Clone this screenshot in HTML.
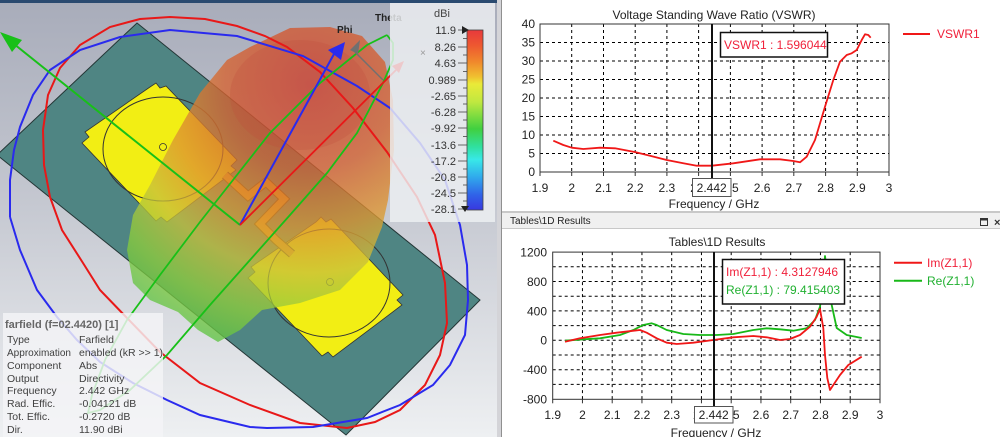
<!DOCTYPE html>
<html><head><meta charset="utf-8">
<style>
html,body{margin:0;padding:0;background:#fff;}
body{width:1000px;height:437px;overflow:hidden;}
svg{display:block;font-family:"Liberation Sans",sans-serif;}
</style></head>
<body>
<svg width="1000" height="437" viewBox="0 0 1000 437" xmlns="http://www.w3.org/2000/svg">
<defs>
<linearGradient id="bg" x1="0" y1="0" x2="0" y2="1">
<stop offset="0" stop-color="#a8acba"/><stop offset="0.45" stop-color="#c4c7d0"/><stop offset="1" stop-color="#eef0f2"/>
</linearGradient>
<clipPath id="lp"><rect x="0" y="0" width="497" height="437"/></clipPath>
<radialGradient id="blob" gradientUnits="userSpaceOnUse" cx="310" cy="85" r="285">
<stop offset="0" stop-color="#cf3f2e"/><stop offset="0.3" stop-color="#d5622f"/><stop offset="0.5" stop-color="#dd9430"/>
<stop offset="0.66" stop-color="#c8c03a"/><stop offset="0.82" stop-color="#8ccc3c"/><stop offset="1" stop-color="#50c048"/>
</radialGradient>
<linearGradient id="cb" x1="0" y1="0" x2="0" y2="1">
<stop offset="0" stop-color="#e8393c"/><stop offset="0.09" stop-color="#ee5a30"/><stop offset="0.18" stop-color="#f08a2c"/>
<stop offset="0.26" stop-color="#f0c030"/><stop offset="0.30" stop-color="#eaea38"/><stop offset="0.40" stop-color="#c0e840"/>
<stop offset="0.55" stop-color="#40d040"/><stop offset="0.65" stop-color="#30e0a0"/><stop offset="0.72" stop-color="#38e8e8"/>
<stop offset="0.82" stop-color="#30a8ec"/><stop offset="0.92" stop-color="#3060e8"/><stop offset="1" stop-color="#3838e0"/>
</linearGradient>
</defs>

<!-- LEFT 3D PANEL -->
<g clip-path="url(#lp)">
<rect x="0" y="0" width="497" height="437" fill="url(#bg)"/>
<rect x="0" y="0" width="497" height="3" fill="#2a4a70"/>
<polygon points="137,23 480,300 346,435 -3,155" fill="#4f8583" stroke="#243636" stroke-width="1"/>
<polygon points="150,87 156,83 160,88 166,86 237,160 231,166 236,170 167,222 161,217 156,221 82,143 89,137 85,132" fill="#f2ee14" stroke="#333" stroke-width="0.8"/>
<polygon points="316,222 321,217 326,222 331,219 403,295 397,300 402,305 333,357 328,352 322,356 248,278 255,272 251,267" fill="#f2ee14" stroke="#333" stroke-width="0.8"/>
<ellipse cx="163" cy="149" rx="60" ry="52" fill="none" stroke="#333" stroke-width="1"/>
<ellipse cx="329" cy="283" rx="61" ry="54" fill="none" stroke="#333" stroke-width="1"/>
<circle cx="163" cy="147" r="3.5" fill="none" stroke="#333" stroke-width="0.8"/>
<circle cx="330" cy="282" r="3.5" fill="none" stroke="#333" stroke-width="0.8"/>
<polyline points="225,175 248,196 266,182 284,199 260,224 276,240 292,254" fill="none" stroke="#5a4010" stroke-width="9" stroke-linejoin="miter"/>
<polyline points="225,175 248,196 266,182 284,199 260,224 276,240 292,254" fill="none" stroke="#eaa020" stroke-width="7" stroke-linejoin="miter"/>
<polygon points="250,47 290,28 330,27 362,36 385,62 393,100 394,150 388,200 382,227 368,262 340,290 300,303 262,310 240,330 218,342 198,330 178,312 150,300 133,283 127,250 133,215 150,185 173,140 200,93 227,60" fill="url(#blob)" fill-opacity="0.78"/>
<ellipse cx="300" cy="95" rx="70" ry="55" fill="#c04a3a" fill-opacity="0.25"/>
<polyline points="43,130 48,95 60,68 80,45 110,27 140,19 170,17 205,19 237,26 265,36 287,47 320,72 353,108 387,152 417,197 435,235 445,283 447,323 440,355 425,385 400,410 375,422 347,428 300,423 250,405 200,383 160,352 127,318 100,290 83,263 62,230 50,197 44,165 43,130" fill="none" stroke="#e81818" stroke-width="2"/>
<polyline points="10,217 10,180 14,150 20,127 33,95 50,70 80,50 120,37 170,30 237,36 303,56 357,86 390,108 420,143 445,180 460,225 467,265 468,300 465,335 450,365 433,385 400,405 367,418 313,427 267,428 250,427 200,415 167,400 133,383 100,362 77,340 57,317 37,290 20,250 10,217" fill="none" stroke="#2a2aee" stroke-width="2"/>
<polyline points="387,35 367,45 320,83 270,133 233,180 200,222 160,275 127,320 105,360 92,395 88,413 100,410 130,390 167,355 210,305 250,260 290,215 327,173 357,133 383,83 393,60 393,43 387,35" fill="none" stroke="#18c018" stroke-width="1.8"/>
<line x1="240" y1="225" x2="14" y2="44" stroke="#18c018" stroke-width="2"/>
<polygon points="0,32 22,40 12,52" fill="#18c018"/>
<line x1="240" y1="225" x2="334" y2="54" stroke="#2a2aee" stroke-width="2"/>
<polygon points="345,42 328,50 341,60" fill="#2a2aee"/>
<line x1="240" y1="225" x2="396" y2="70" stroke="#e81818" stroke-width="1.8"/>
<polygon points="404,61 392,66 399,73" fill="#e81818"/>
<line x1="383" y1="80" x2="355" y2="52" stroke="#707070" stroke-width="1.5"/>
<polygon points="360,40 350,50 358,54" fill="#707070"/>
<text x="337" y="33" font-size="10" font-weight="bold" fill="#222">Phi</text>
<text x="375" y="21" font-size="10" font-weight="bold" fill="#222">Theta</text>
<rect x="390" y="3" width="105" height="219" fill="#eef0f3" fill-opacity="0.82"/>
<text x="420" y="56" font-size="10" fill="#999">×</text>
<text x="442" y="17" font-size="11" fill="#444" text-anchor="middle">dBi</text>
<rect x="467" y="30" width="16" height="180" fill="url(#cb)" stroke="#444" stroke-width="0.8"/>
<g stroke="#444" stroke-width="0.8">
<line x1="458" y1="30" x2="467" y2="30"/><line x1="458" y1="47" x2="467" y2="47"/><line x1="458" y1="63" x2="467" y2="63"/><line x1="458" y1="80" x2="467" y2="80"/><line x1="458" y1="96" x2="467" y2="96"/><line x1="458" y1="112" x2="467" y2="112"/><line x1="458" y1="128" x2="467" y2="128"/><line x1="458" y1="145" x2="467" y2="145"/><line x1="458" y1="161" x2="467" y2="161"/><line x1="458" y1="177" x2="467" y2="177"/><line x1="458" y1="193" x2="467" y2="193"/><line x1="458" y1="209" x2="467" y2="209"/>
<line x1="463" y1="38.5" x2="467" y2="38.5"/><line x1="463" y1="55" x2="467" y2="55"/><line x1="463" y1="71.5" x2="467" y2="71.5"/><line x1="463" y1="88" x2="467" y2="88"/><line x1="463" y1="104" x2="467" y2="104"/><line x1="463" y1="120" x2="467" y2="120"/><line x1="463" y1="136.5" x2="467" y2="136.5"/><line x1="463" y1="153" x2="467" y2="153"/><line x1="463" y1="169" x2="467" y2="169"/><line x1="463" y1="185" x2="467" y2="185"/><line x1="463" y1="201" x2="467" y2="201"/>
</g>
<polygon points="462,26 469,30 462,34" fill="#222"/>
<polygon points="461,206 469,206 465,212" fill="#222"/>
<g font-size="11" fill="#333" text-anchor="end">
<text x="456" y="34">11.9</text><text x="456" y="51">8.26</text><text x="456" y="67">4.63</text><text x="456" y="84">0.989</text>
<text x="456" y="100">-2.65</text><text x="456" y="116">-6.28</text><text x="456" y="132">-9.92</text><text x="456" y="149">-13.6</text>
<text x="456" y="165">-17.2</text><text x="456" y="181">-20.8</text><text x="456" y="197">-24.5</text><text x="456" y="213">-28.1</text>
</g>
<rect x="3" y="313" width="160" height="124" fill="#f4f4f6" fill-opacity="0.82"/>
<text x="5" y="328" font-size="11" font-weight="bold" fill="#666">farfield (f=02.4420) [1]</text>
<g font-size="10.5" fill="#404040">
<text x="7" y="343">Type</text><text x="79" y="343">Farfield</text>
<text x="7" y="356" textLength="64" lengthAdjust="spacingAndGlyphs">Approximation</text><text x="79" y="356">enabled (kR &gt;&gt; 1)</text>
<text x="7" y="369">Component</text><text x="79" y="369">Abs</text>
<text x="7" y="382">Output</text><text x="79" y="382">Directivity</text>
<text x="7" y="394">Frequency</text><text x="79" y="394">2.442 GHz</text>
<text x="7" y="407">Rad. Effic.</text><text x="79" y="407">-0.04121 dB</text>
<text x="7" y="420">Tot. Effic.</text><text x="79" y="420">-0.2720 dB</text>
<text x="7" y="433">Dir.</text><text x="79" y="433">11.90 dBi</text>
</g>
</g>

<rect x="497" y="0" width="4" height="437" fill="#d4d4d8"/>
<line x1="501.5" y1="0" x2="501.5" y2="437" stroke="#909090" stroke-width="1"/>

<!-- TOP CHART -->
<text x="714" y="19" font-size="12" fill="#222" text-anchor="middle">Voltage Standing Wave Ratio (VSWR)</text>
<g stroke="#000" stroke-width="1" stroke-dasharray="3,3">
<line x1="571.7" y1="24" x2="571.7" y2="172"/><line x1="603.5" y1="24" x2="603.5" y2="172"/><line x1="635.2" y1="24" x2="635.2" y2="172"/><line x1="666.9" y1="24" x2="666.9" y2="172"/><line x1="698.6" y1="24" x2="698.6" y2="172"/><line x1="730.4" y1="24" x2="730.4" y2="172"/><line x1="762.1" y1="24" x2="762.1" y2="172"/><line x1="793.8" y1="24" x2="793.8" y2="172"/><line x1="825.6" y1="24" x2="825.6" y2="172"/><line x1="857.3" y1="24" x2="857.3" y2="172"/>
<line x1="540" y1="153.5" x2="889" y2="153.5"/><line x1="540" y1="135" x2="889" y2="135"/><line x1="540" y1="116.5" x2="889" y2="116.5"/><line x1="540" y1="98" x2="889" y2="98"/><line x1="540" y1="79.5" x2="889" y2="79.5"/><line x1="540" y1="61" x2="889" y2="61"/><line x1="540" y1="42.5" x2="889" y2="42.5"/>
</g>
<rect x="540" y="24" width="349" height="148" fill="none" stroke="#333" stroke-width="1"/>
<g stroke="#333" stroke-width="1">
<line x1="540" y1="172" x2="540" y2="176"/><line x1="571.7" y1="172" x2="571.7" y2="176"/><line x1="603.5" y1="172" x2="603.5" y2="176"/><line x1="635.2" y1="172" x2="635.2" y2="176"/><line x1="666.9" y1="172" x2="666.9" y2="176"/><line x1="698.6" y1="172" x2="698.6" y2="176"/><line x1="730.4" y1="172" x2="730.4" y2="176"/><line x1="762.1" y1="172" x2="762.1" y2="176"/><line x1="793.8" y1="172" x2="793.8" y2="176"/><line x1="825.6" y1="172" x2="825.6" y2="176"/><line x1="857.3" y1="172" x2="857.3" y2="176"/><line x1="889" y1="172" x2="889" y2="176"/>
</g>
<g font-size="12" fill="#222" text-anchor="end">
<text x="535" y="28">40</text><text x="535" y="46.5">35</text><text x="535" y="65">30</text><text x="535" y="83.5">25</text><text x="535" y="102">20</text><text x="535" y="120.5">15</text><text x="535" y="139">10</text><text x="535" y="157.5">5</text><text x="535" y="176">0</text>
</g>
<g font-size="12" fill="#222" text-anchor="middle">
<text x="540" y="192">1.9</text><text x="571.7" y="192">2</text><text x="603.5" y="192">2.1</text><text x="635.2" y="192">2.2</text><text x="666.9" y="192">2.3</text><text x="698.6" y="192">2.4</text><text x="730.4" y="192">2.5</text><text x="762.1" y="192">2.6</text><text x="793.8" y="192">2.7</text><text x="825.6" y="192">2.8</text><text x="857.3" y="192">2.9</text><text x="889" y="192">3</text>
</g>
<text x="714" y="208" font-size="12" fill="#222" text-anchor="middle">Frequency / GHz</text>
<polyline points="553.3,140.7 563.3,145 571.7,147.7 583.3,149 600,147.7 615,148.3 633.3,151.7 650,155.7 666.7,160 683.3,163.3 696.7,165.7 712,165.7 733.3,163.3 760,159.3 780,159.3 793.3,161 800,162.3 806.7,156.7 815,140 825,106.7 833.3,80 840,61.7 846.7,55 851.7,53.3 856.7,50 861.7,40 865,34.3 868.3,35 870.7,37.7" fill="none" stroke="#f01818" stroke-width="1.8" stroke-linejoin="round"/>
<line x1="712" y1="24" x2="712" y2="178" stroke="#111" stroke-width="2"/>
<rect x="692.5" y="178.5" width="38.5" height="18" fill="#fff" stroke="#555" stroke-width="1"/>
<text x="711.7" y="192" font-size="12" fill="#222" text-anchor="middle">2.442</text>
<rect x="720.5" y="32.5" width="107" height="24.5" fill="#fff" stroke="#111" stroke-width="1.5"/>
<text x="724" y="49" font-size="12" fill="#f0203a">VSWR1 : 1.596044</text>
<line x1="903" y1="34" x2="930" y2="34" stroke="#f01818" stroke-width="2"/>
<text x="937" y="38" font-size="12" fill="#f0203a">VSWR1</text>

<rect x="502" y="211" width="498" height="2" fill="#c8c8c8"/>
<rect x="502" y="213" width="498" height="15" fill="#f0f0f0"/>
<line x1="502" y1="228.5" x2="1000" y2="228.5" stroke="#c8c8c8" stroke-width="1"/>
<text x="510" y="224" font-size="10" fill="#222">Tables\1D Results</text>
<rect x="980.5" y="218.5" width="7" height="7" fill="none" stroke="#333" stroke-width="1"/>
<line x1="980.5" y1="219.5" x2="987.5" y2="219.5" stroke="#333" stroke-width="2"/>
<text x="994" y="226" font-size="11" font-weight="bold" fill="#333">×</text>

<!-- BOTTOM CHART -->
<text x="717" y="246" font-size="12" fill="#222" text-anchor="middle">Tables\1D Results</text>
<g stroke="#000" stroke-width="1" stroke-dasharray="3,3">
<line x1="582.45" y1="252.1" x2="582.45" y2="399.3"/><line x1="612.2" y1="252.1" x2="612.2" y2="399.3"/><line x1="641.95" y1="252.1" x2="641.95" y2="399.3"/><line x1="671.7" y1="252.1" x2="671.7" y2="399.3"/><line x1="701.45" y1="252.1" x2="701.45" y2="399.3"/><line x1="731.2" y1="252.1" x2="731.2" y2="399.3"/><line x1="760.95" y1="252.1" x2="760.95" y2="399.3"/><line x1="790.7" y1="252.1" x2="790.7" y2="399.3"/><line x1="820.45" y1="252.1" x2="820.45" y2="399.3"/><line x1="850.2" y1="252.1" x2="850.2" y2="399.3"/>
<line x1="552.7" y1="266.8" x2="880" y2="266.8"/><line x1="552.7" y1="281.5" x2="880" y2="281.5"/><line x1="552.7" y1="296.2" x2="880" y2="296.2"/><line x1="552.7" y1="310.9" x2="880" y2="310.9"/><line x1="552.7" y1="325.6" x2="880" y2="325.6"/><line x1="552.7" y1="340.3" x2="880" y2="340.3"/><line x1="552.7" y1="355" x2="880" y2="355"/><line x1="552.7" y1="369.7" x2="880" y2="369.7"/><line x1="552.7" y1="384.4" x2="880" y2="384.4"/>
</g>
<rect x="552.7" y="252.1" width="327.3" height="147.2" fill="none" stroke="#333" stroke-width="1"/>
<g stroke="#333" stroke-width="1">
<line x1="552.7" y1="399.3" x2="552.7" y2="403.3"/><line x1="582.45" y1="399.3" x2="582.45" y2="403.3"/><line x1="612.2" y1="399.3" x2="612.2" y2="403.3"/><line x1="641.95" y1="399.3" x2="641.95" y2="403.3"/><line x1="671.7" y1="399.3" x2="671.7" y2="403.3"/><line x1="701.45" y1="399.3" x2="701.45" y2="403.3"/><line x1="731.2" y1="399.3" x2="731.2" y2="403.3"/><line x1="760.95" y1="399.3" x2="760.95" y2="403.3"/><line x1="790.7" y1="399.3" x2="790.7" y2="403.3"/><line x1="820.45" y1="399.3" x2="820.45" y2="403.3"/><line x1="850.2" y1="399.3" x2="850.2" y2="403.3"/><line x1="880" y1="399.3" x2="880" y2="403.3"/>
</g>
<g font-size="12" fill="#222" text-anchor="end">
<text x="547" y="256.5">1200</text><text x="547" y="285.9">800</text><text x="547" y="315.3">400</text><text x="547" y="344.7">0</text><text x="547" y="374.1">-400</text><text x="547" y="403.5">-800</text>
</g>
<g font-size="12" fill="#222" text-anchor="middle">
<text x="552.7" y="419">1.9</text><text x="582.45" y="419">2</text><text x="612.2" y="419">2.1</text><text x="641.95" y="419">2.2</text><text x="671.7" y="419">2.3</text><text x="701.45" y="419">2.4</text><text x="731.2" y="419">2.5</text><text x="760.95" y="419">2.6</text><text x="790.7" y="419">2.7</text><text x="820.45" y="419">2.8</text><text x="850.2" y="419">2.9</text><text x="880" y="419">3</text>
</g>
<text x="716" y="437" font-size="12" fill="#222" text-anchor="middle">Frequency / GHz</text>
<polyline points="565,340.7 583.3,339.3 600,338.3 620,335 633.3,330 643.3,325 651.7,323.3 656.7,325 666.7,330 683.3,334 700,335 716.7,335 733.3,334 753.3,330 766.7,328.3 780,329.3 793.3,330.7 806.7,328.3 815,320 820,306.7 823,285 825,256 828,280 831.7,305 836.7,328 846.7,335 861.7,338" fill="none" stroke="#18b818" stroke-width="1.8" stroke-linejoin="round"/>
<polyline points="565,341.7 580,338.3 600,335 616.7,332.7 640,330 646.7,332.7 656.7,338.3 666.7,342.7 676.7,344 693.3,342.7 713.3,340 733.3,337.3 753.3,336 766.7,337.3 780,340 790,339 800,335 810,326.7 816.7,316.7 820,309 823.3,328 825,355 827.3,378 830,390 833.3,385 840,375 848.3,365 861.7,356.7" fill="none" stroke="#f01818" stroke-width="1.8" stroke-linejoin="round"/>
<line x1="714" y1="252.1" x2="714" y2="407" stroke="#111" stroke-width="2"/>
<rect x="694.5" y="406.5" width="38.5" height="16.5" fill="#fff" stroke="#555" stroke-width="1"/>
<text x="713.7" y="419" font-size="12" fill="#222" text-anchor="middle">2.442</text>
<rect x="722.5" y="259.5" width="122" height="44.5" fill="#fff" stroke="#111" stroke-width="1.5"/>
<text x="726" y="276" font-size="12" fill="#f0203a">Im(Z1,1) : 4.3127946</text>
<text x="726" y="294" font-size="12" fill="#20b030">Re(Z1,1) : 79.415403</text>
<line x1="894" y1="262.7" x2="922" y2="262.7" stroke="#f01818" stroke-width="2"/>
<text x="927" y="267" font-size="12" fill="#f0203a">Im(Z1,1)</text>
<line x1="894" y1="280.7" x2="922" y2="280.7" stroke="#18b818" stroke-width="2"/>
<text x="927" y="285" font-size="12" fill="#20b030">Re(Z1,1)</text>
</svg>
</body></html>
